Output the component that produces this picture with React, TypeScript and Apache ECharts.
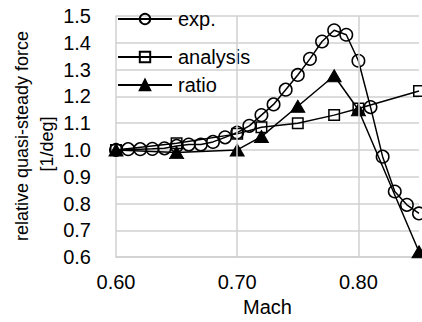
import React, { useEffect, useRef } from "react";
import * as echarts from "echarts";

const expMach = [0.60, 0.61, 0.62, 0.63, 0.64, 0.65, 0.66, 0.67, 0.68, 0.69, 0.70, 0.71, 0.72, 0.73, 0.74, 0.75, 0.76, 0.77, 0.78, 0.79, 0.80, 0.81, 0.82, 0.83, 0.84, 0.85];
const expValues = [1.0, 1.003, 1.003, 1.004, 1.006, 1.015, 1.02, 1.02, 1.03, 1.047, 1.065, 1.09, 1.13, 1.17, 1.225, 1.28, 1.34, 1.405, 1.447, 1.43, 1.333, 1.16, 0.975, 0.845, 0.795, 0.763];
const calcMach = [0.60, 0.65, 0.70, 0.72, 0.75, 0.78, 0.80, 0.85];
const analysisValues = [1.0, 1.025, 1.06, 1.085, 1.10, 1.13, 1.155, 1.22];
const ratioValues = [1.0, 0.99, 1.0, 1.05, 1.163, 1.277, 1.15, 0.62];
const xGridLines = [0.7, 0.8];
const seriesNames = ["exp.", "analysis", "ratio"];

const FONT = "'Liberation Sans', Arial, sans-serif";
const GRID = "#d0d0d0";

export default function App() {
  const ref = useRef<HTMLDivElement>(null);
  useEffect(() => {
    if (!ref.current) return;
    const chart = echarts.init(ref.current, null, { renderer: "svg" });
    const pair = (xs: number[], ys: number[]) => xs.map((x, i) => [x, ys[i]]);
    const legendBase = {
      left: 117,
      orient: "horizontal",
      padding: 0,
      itemWidth: 54,
      itemHeight: 13,
      itemGap: 0,
      textStyle: { fontFamily: FONT, fontSize: 20, color: "#000", lineHeight: 20, padding: [0, 0, 0, 1] },
    };
    chart.setOption({
      animation: false,
      grid: { left: 116, right: 3, top: 16, bottom: 63 },
      legend: [
        { ...legendBase, top: 9, data: [seriesNames[0]] },
        { ...legendBase, top: 47, data: [seriesNames[1]] },
        { ...legendBase, top: 75, data: [seriesNames[2]] },
      ],
      xAxis: {
        type: "value",
        min: 0.6,
        max: 0.85,
        interval: 0.1,
        name: "Mach",
        nameLocation: "middle",
        nameGap: 39,
        nameTextStyle: { fontFamily: FONT, fontSize: 20, color: "#000" },
        axisLine: { show: true, lineStyle: { color: GRID, width: 1.5 } },
        axisTick: { show: false },
        splitLine: { show: false },
        axisLabel: {
          fontFamily: FONT,
          fontSize: 20,
          color: "#000",
          margin: 15,
          showMaxLabel: false,
          formatter: (v: number) => v.toFixed(2),
        },
      },
      yAxis: {
        type: "value",
        min: 0.6,
        max: 1.5,
        interval: 0.1,
        axisLine: { show: true, lineStyle: { color: GRID, width: 1.5 } },
        axisTick: { show: false },
        splitLine: { show: true, lineStyle: { color: GRID, width: 1.5 } },
        axisLabel: {
          fontFamily: FONT,
          fontSize: 20,
          color: "#000",
          margin: 25,
          formatter: (v: number) => v.toFixed(1),
        },
      },
      graphic: [
        {
          type: "text",
          x: 22,
          y: 136,
          rotation: Math.PI / 2,
          style: { text: "relative quasi-steady force", fontFamily: FONT, fontSize: 18, fill: "#000", textAlign: "center", textVerticalAlign: "middle" },
        },
        {
          type: "text",
          x: 47,
          y: 144,
          rotation: Math.PI / 2,
          style: { text: "[1/deg]", fontFamily: FONT, fontSize: 18, fill: "#000", textAlign: "center", textVerticalAlign: "middle" },
        },
      ],
      series: [
        {
          name: "grid",
          type: "line",
          data: [],
          silent: true,
          markLine: {
            silent: true,
            symbol: "none",
            label: { show: false },
            lineStyle: { color: GRID, width: 1.5, type: "solid" },
            data: xGridLines.map((x) => ({ xAxis: x })),
          },
          z: 1,
        },
        {
          name: seriesNames[0],
          type: "line",
          data: pair(expMach, expValues),
          symbol: "circle",
          symbolSize: 12.5,
          lineStyle: { color: "#000", width: 1.5 },
          itemStyle: { color: "rgba(0,0,0,0)", borderColor: "#000", borderWidth: 1.5 },
          z: 3,
        },
        {
          name: seriesNames[1],
          type: "line",
          data: pair(calcMach, analysisValues),
          symbol: "rect",
          symbolSize: 10.5,
          lineStyle: { color: "#000", width: 1.5 },
          itemStyle: { color: "rgba(0,0,0,0)", borderColor: "#000", borderWidth: 1.5 },
          z: 3,
        },
        {
          name: seriesNames[2],
          type: "line",
          data: pair(calcMach, ratioValues),
          symbol: "triangle",
          symbolSize: [14, 12],
          lineStyle: { color: "#000", width: 1.5 },
          itemStyle: { color: "#000", borderColor: "#000", borderWidth: 1 },
          z: 4,
        },
      ],
    });
    return () => chart.dispose();
  }, []);
  return <div ref={ref} style={{ width: 422, height: 322, position: "absolute", left: 0, top: 0 }} />;
}
